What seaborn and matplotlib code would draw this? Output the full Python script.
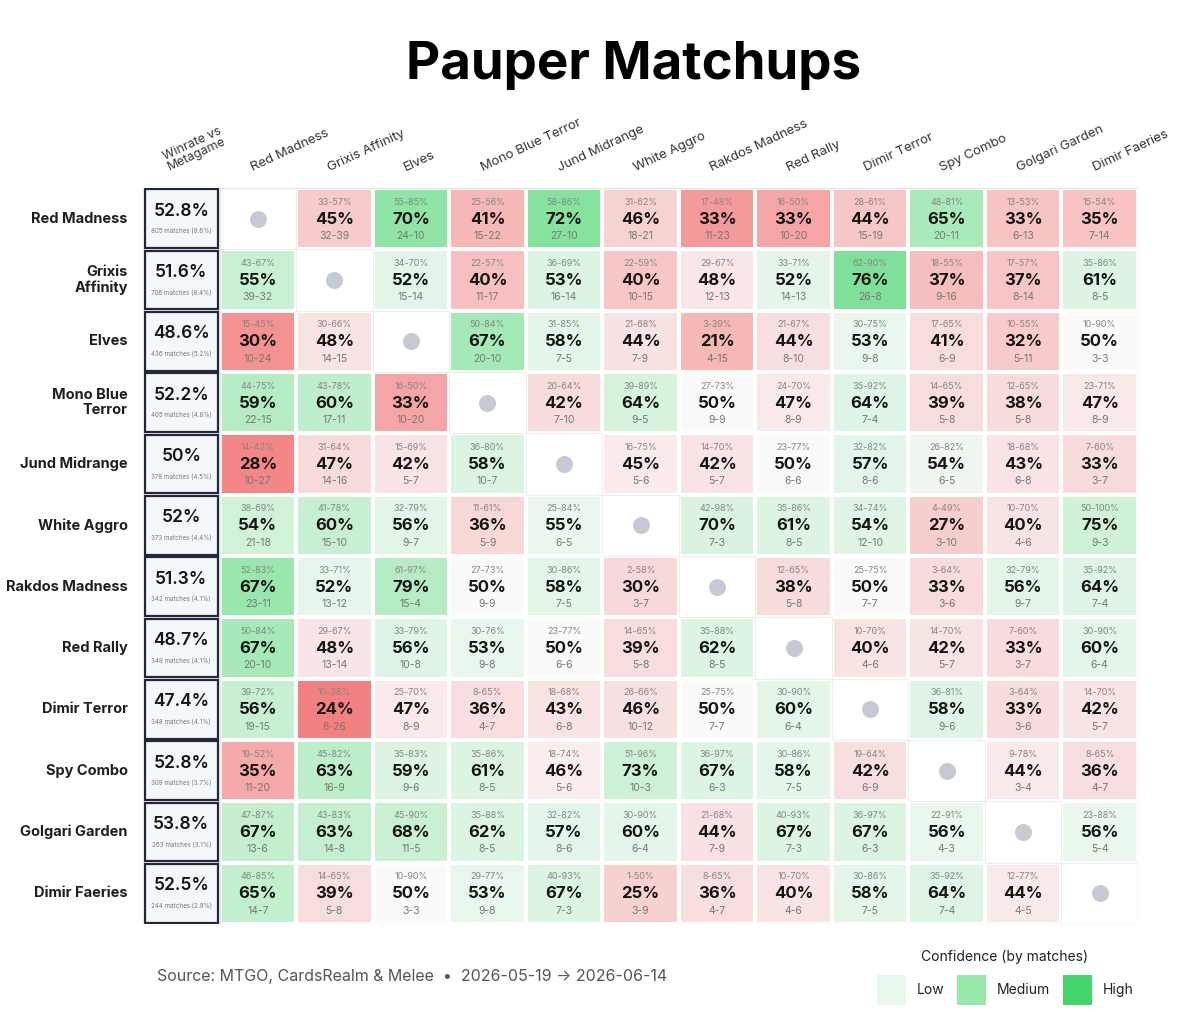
import numpy as np
import pandas as pd
import matplotlib
matplotlib.use('Agg')
import matplotlib.pyplot as plt
from matplotlib.colors import LinearSegmentedColormap, to_rgb
from matplotlib.patches import Rectangle
import seaborn as sns

# ---- data ----
decks = ['Red Madness', 'Grixis Affinity', 'Elves', 'Mono Blue Terror', 'Jund Midrange',
         'White Aggro', 'Rakdos Madness', 'Red Rally', 'Dimir Terror', 'Spy Combo',
         'Golgari Garden', 'Dimir Faeries']
row_labels = ['Red Madness', 'Grixis\nAffinity', 'Elves', 'Mono Blue\nTerror', 'Jund Midrange',
              'White Aggro', 'Rakdos Madness', 'Red Rally', 'Dimir Terror', 'Spy Combo',
              'Golgari Garden', 'Dimir Faeries']

meta_wr = [52.8, 51.6, 48.6, 52.2, 50.0, 52.0, 51.3, 48.7, 47.4, 52.8, 53.8, 52.5]
meta_matches = [805, 706, 436, 405, 378, 373, 342, 349, 348, 309, 263, 244]
meta_share = [9.6, 8.4, 5.2, 4.8, 4.5, 4.4, 4.1, 4.1, 4.1, 3.7, 3.1, 2.9]

win_pct = [
    [None, 45, 70, 41, 72, 46, 33, 33, 44, 65, 33, 35],
    [55, None, 52, 40, 53, 40, 48, 52, 76, 37, 37, 61],
    [30, 48, None, 67, 58, 44, 21, 44, 53, 41, 32, 50],
    [59, 60, 33, None, 42, 64, 50, 47, 64, 39, 38, 47],
    [28, 47, 42, 58, None, 45, 42, 50, 57, 54, 43, 33],
    [54, 60, 56, 36, 55, None, 70, 61, 54, 27, 40, 75],
    [67, 52, 79, 50, 58, 30, None, 38, 50, 33, 56, 64],
    [67, 48, 56, 53, 50, 39, 62, None, 40, 42, 33, 60],
    [56, 24, 47, 36, 43, 46, 50, 60, None, 58, 33, 42],
    [35, 63, 59, 61, 46, 73, 67, 58, 42, None, 44, 36],
    [67, 63, 68, 62, 57, 60, 44, 67, 67, 56, None, 56],
    [65, 39, 50, 53, 67, 25, 36, 40, 58, 64, 44, None],
]
ci_low = [
    [None, 33, 55, 25, 58, 31, 17, 16, 28, 48, 13, 15],
    [43, None, 34, 22, 36, 22, 29, 33, 62, 18, 17, 35],
    [15, 30, None, 50, 31, 21, 3, 21, 30, 17, 10, 10],
    [44, 43, 16, None, 20, 39, 27, 24, 35, 14, 12, 23],
    [14, 31, 15, 36, None, 16, 14, 23, 32, 26, 18, 7],
    [38, 41, 32, 11, 25, None, 42, 35, 34, 4, 10, 50],
    [52, 33, 61, 27, 30, 2, None, 12, 25, 3, 32, 35],
    [50, 29, 33, 30, 23, 14, 35, None, 10, 14, 7, 30],
    [39, 10, 25, 8, 18, 26, 25, 30, None, 36, 3, 14],
    [19, 45, 35, 35, 18, 51, 36, 30, 19, None, 9, 8],
    [47, 43, 45, 35, 32, 30, 21, 40, 36, 22, None, 23],
    [46, 14, 10, 29, 40, 1, 8, 10, 30, 35, 12, None],
]
ci_high = [
    [None, 57, 85, 56, 86, 62, 48, 50, 61, 81, 53, 54],
    [67, None, 70, 57, 69, 59, 67, 71, 90, 55, 57, 86],
    [45, 66, None, 84, 85, 68, 39, 67, 75, 65, 55, 90],
    [75, 78, 50, None, 64, 89, 73, 70, 92, 65, 65, 71],
    [42, 64, 69, 80, None, 75, 70, 77, 82, 82, 68, 60],
    [69, 78, 79, 61, 84, None, 98, 86, 74, 49, 70, 100],
    [83, 71, 97, 73, 86, 58, None, 65, 75, 64, 79, 92],
    [84, 67, 79, 76, 77, 65, 88, None, 70, 70, 60, 90],
    [72, 38, 70, 65, 68, 66, 75, 90, None, 81, 64, 70],
    [52, 82, 83, 86, 74, 96, 97, 86, 64, None, 78, 65],
    [87, 83, 90, 88, 82, 90, 68, 93, 97, 91, None, 88],
    [85, 65, 90, 77, 93, 50, 65, 70, 86, 92, 77, None],
]
wins = [
    [None, 32, 24, 15, 27, 18, 11, 10, 15, 20, 6, 7],
    [39, None, 15, 11, 16, 10, 12, 14, 26, 9, 8, 8],
    [10, 14, None, 20, 7, 7, 4, 8, 9, 6, 5, 3],
    [22, 17, 10, None, 7, 9, 9, 8, 7, 5, 5, 8],
    [10, 14, 5, 10, None, 5, 5, 6, 8, 6, 6, 3],
    [21, 15, 9, 5, 6, None, 7, 8, 12, 3, 4, 9],
    [23, 13, 15, 9, 7, 3, None, 5, 7, 3, 9, 7],
    [20, 13, 10, 9, 6, 5, 8, None, 4, 5, 3, 6],
    [19, 8, 8, 4, 6, 10, 7, 6, None, 9, 3, 5],
    [11, 16, 9, 8, 5, 10, 6, 7, 6, None, 3, 4],
    [13, 14, 11, 8, 8, 6, 7, 7, 6, 4, None, 5],
    [14, 5, 3, 9, 7, 3, 4, 4, 7, 7, 4, None],
]
losses = [
    [None, 39, 10, 22, 10, 21, 23, 20, 19, 11, 13, 14],
    [32, None, 14, 17, 14, 15, 13, 13, 8, 16, 14, 5],
    [24, 15, None, 10, 5, 9, 15, 10, 8, 9, 11, 3],
    [15, 11, 20, None, 10, 5, 9, 9, 4, 8, 8, 9],
    [27, 16, 7, 7, None, 6, 7, 6, 6, 5, 8, 7],
    [18, 10, 7, 9, 5, None, 3, 5, 10, 10, 6, 3],
    [11, 12, 4, 9, 5, 7, None, 8, 7, 6, 7, 4],
    [10, 14, 8, 8, 6, 8, 5, None, 6, 7, 7, 4],
    [15, 26, 9, 7, 8, 12, 7, 4, None, 6, 6, 7],
    [20, 9, 6, 5, 6, 3, 3, 5, 9, None, 4, 7],
    [6, 8, 5, 5, 6, 4, 9, 3, 3, 3, None, 4],
    [7, 8, 3, 8, 3, 9, 7, 6, 5, 4, 5, None],
]

legend_labels = ['Low', 'Medium', 'High']
legend_colors = ['#e8f8ec', '#98e8ac', '#44d66a']

# ---- style ----
sns.set_theme(style='white')
plt.rcParams['font.family'] = ['Inter', 'DejaVu Sans']

n_rows = len(decks)
RED = np.array(to_rgb('#ef4444'))
GREEN = np.array(to_rgb('#41d568'))
WHITE = np.array(to_rgb('#fafafa'))
k = 0.68
cmap = LinearSegmentedColormap.from_list(
    'wr', [WHITE + k * (RED - WHITE), WHITE, WHITE + k * (GREEN - WHITE)])

# signed strength: how far from 50%, scaled by sample size
score = np.full((n_rows, n_rows + 1), np.nan)
for i in range(n_rows):
    for j in range(n_rows):
        p = win_pct[i][j]
        if p is None:
            continue
        n = wins[i][j] + losses[i][j]
        dev = min(abs(p - 50) / 25, 1) ** 0.6
        conf = min(max(n / 35, 0.3), 1)
        score[i, j + 1] = np.sign(p - 50) * dev * conf

df = pd.DataFrame(score, index=decks, columns=['Meta'] + decks)

fig = plt.figure(figsize=(12, 10.29), dpi=100)
ax = fig.add_axes([143 / 1200, 1 - 924 / 1029, 995 / 1200, 736 / 1029])
ax.set_facecolor('white')
sns.heatmap(df, ax=ax, cmap=cmap, vmin=-1, vmax=1, cbar=False,
            mask=df.isna(), linewidths=1.6, linecolor='white',
            xticklabels=False, yticklabels=False)
ax.set_xlabel('')
ax.set_ylabel('')

# faint outlines for the empty self-matchup cells
for i in range(n_rows):
    ax.add_patch(Rectangle((i + 1, i), 1, 1, fill=False, edgecolor='#eeeeee',
                           linewidth=0.8, zorder=1))

# matchup cell texts
for i in range(n_rows):
    for j in range(n_rows):
        x = j + 1.5
        y = i + 0.5
        if win_pct[i][j] is None:
            ax.scatter([x], [y], s=150, color='#c5cad3', zorder=3, linewidths=0)
            continue
        ax.text(x, y - 0.27, f'{ci_low[i][j]}-{ci_high[i][j]}%', ha='center', va='center',
                fontsize=6.5, color='#858585')
        ax.text(x, y + 0.01, f'{win_pct[i][j]}%', ha='center', va='center',
                fontsize=12, fontweight='bold', color='#151515')
        ax.text(x, y + 0.28, f'{wins[i][j]}-{losses[i][j]}', ha='center', va='center',
                fontsize=7.5, color='#777777')

# metagame column
for i in range(n_rows):
    ax.add_patch(Rectangle((0.02, i + 0.02), 0.96, 0.96, facecolor='#f5f8fb',
                           edgecolor='#1f2937', linewidth=1.6, zorder=2))
    ax.text(0.5, i + 0.38, f'{meta_wr[i]:g}%', ha='center', va='center',
            fontsize=12.5, fontweight='semibold', color='#151515', zorder=3)
    ax.text(0.5, i + 0.7, f'{meta_matches[i]} matches ({meta_share[i]}%)', ha='center',
            va='center', fontsize=4.5, color='#777777', zorder=3)

# row labels
for i, lab in enumerate(row_labels):
    ax.text(-0.2, i + 0.5, lab, ha='right', va='center', fontsize=10.5,
            fontweight='bold', color='#1f1f1f', linespacing=1.1)

# column labels
ax.text(0.35, -0.28, 'Winrate vs\nMetagame', rotation=25, rotation_mode='anchor',
        ha='left', va='baseline', fontsize=9, color='#333333', linespacing=0.95,
        multialignment='center')
for j, lab in enumerate(decks):
    ax.text(j + 1.5 - 0.06, -0.28, lab, rotation=25, rotation_mode='anchor',
            ha='left', va='baseline', fontsize=9.5, color='#333333')

ax.add_patch(Rectangle((1, 0), n_rows, n_rows, fill=False, edgecolor='#e5e7eb',
                       linewidth=1, zorder=1))
ax.set_xlim(0, n_rows + 1)
ax.set_ylim(n_rows, 0)
for s in ax.spines.values():
    s.set_visible(False)

# title and footer
fig.text(633 / 1200, 1 - 65 / 1029, 'Pauper Matchups', ha='center', va='center',
         fontsize=38, fontweight='bold', color='black')
fig.text(157 / 1200, 1 - 977 / 1029,
         'Source: MTGO, CardsRealm & Melee  \u2022  2026-05-19 \u2192 2026-06-14',
         ha='left', va='center', fontsize=11.5, color='#555555')

# confidence legend
fig.text(1005 / 1200, 1 - 957 / 1029, 'Confidence (by matches)', ha='center',
         va='center', fontsize=10, color='#222222')
sw_x = [877, 957, 1063]
for xs, lab, col in zip(sw_x, legend_labels, legend_colors):
    fig.patches.append(Rectangle((xs / 1200, 1 - 1005 / 1029), 29 / 1200, 30 / 1029,
                                 transform=fig.transFigure, facecolor=col,
                                 edgecolor='none'))
    fig.text((xs + 40) / 1200, 1 - 990 / 1029, lab, ha='left', va='center',
             fontsize=10, color='#222222')

fig.savefig('out.png', dpi=100, facecolor='white')
